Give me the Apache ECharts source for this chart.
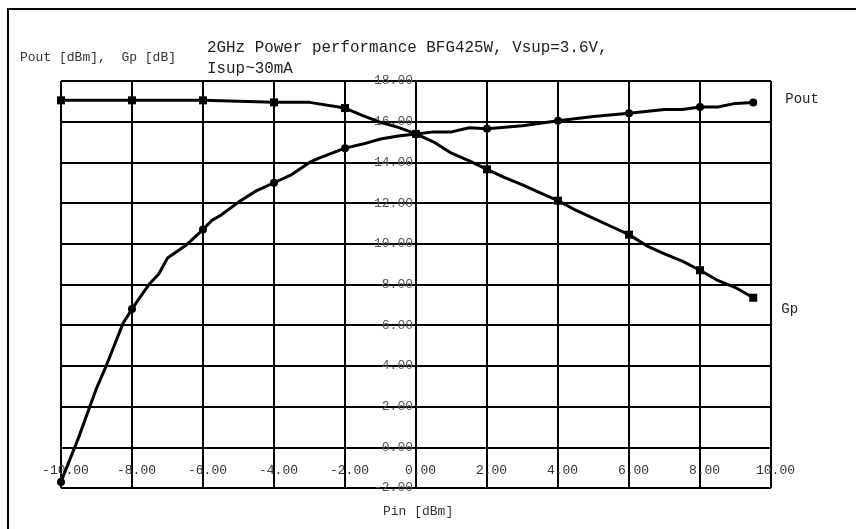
<!DOCTYPE html>
<html>
<head>
<meta charset="utf-8">
<script src="https://cdn.jsdelivr.net/npm/echarts@6/dist/echarts.min.js"></script>
<style>
  html, body { margin: 0; padding: 0; background: #fff; }
  #main { width: 856px; height: 529px; }
</style>
</head>
<body>
<div id="main"></div>
<script>
// Pin [dBm] values along each curve
var pinPout = [-10, -9.5, -9, -8.75, -8.5, -8.25, -8, -7.5, -7.25, -7, -6.5, -6, -5.75, -5.5, -5, -4.5, -4, -3.5, -3, -2.75, -2, -1.5, -1, -0.5, 0, 0.5, 1, 1.5, 2, 3, 4, 5, 6, 7, 7.5, 8, 8.5, 9, 9.5];
var pout = [-1.7, 0.5, 2.9, 3.9, 5.0, 6.1, 6.8, 8.05, 8.5, 9.3, 9.9, 10.7, 11.15, 11.4, 12.05, 12.6, 13.0, 13.4, 14.0, 14.2, 14.7, 14.9, 15.15, 15.3, 15.4, 15.5, 15.5, 15.7, 15.65, 15.8, 16.05, 16.25, 16.42, 16.6, 16.6, 16.72, 16.72, 16.9, 16.94];

var pinGp = [-10, -8, -6, -4, -3, -2, -1.5, -1, -0.5, 0, 0.5, 1, 1.5, 2, 2.5, 3, 3.5, 4, 4.5, 5, 5.5, 6, 6.5, 7, 7.5, 8, 8.5, 9, 9.5];
var gp = [17.05, 17.05, 17.05, 16.95, 16.95, 16.67, 16.3, 15.97, 15.72, 15.4, 15.0, 14.45, 14.07, 13.66, 13.25, 12.9, 12.5, 12.12, 11.65, 11.25, 10.85, 10.45, 9.9, 9.5, 9.15, 8.7, 8.2, 7.85, 7.35];

// points that carry a marker
var markPin = [-10, -8, -6, -4, -2, 0, 2, 4, 6, 8, 9.5];

var mono = 'Liberation Mono';

function pairs(xs, ys) {
  return xs.map(function (x, i) { return [x, ys[i]]; });
}

var chart = echarts.init(document.getElementById('main'));
chart.setOption({
  animation: false,
  backgroundColor: '#fff',
  title: {
    text: '2GHz Power performance BFG425W, Vsup=3.6V,\nIsup~30mA',
    left: 202,
    top: 32,
    textStyle: { fontFamily: mono, fontSize: 15.9, fontWeight: 'normal', color: '#222', lineHeight: 21 }
  },
  grid: { left: 61, right: 85, top: 81, bottom: 41 },
  xAxis: {
    type: 'value',
    min: -10, max: 10, interval: 2,
    offset: -38, // labels sit on y = 0
    axisLine: { show: false, onZero: false },
    axisTick: { show: false },
    splitLine: { lineStyle: { color: '#000', width: 2 } },
    axisLabel: {
      fontFamily: mono, fontSize: 13, color: '#333', margin: 14,
      padding: [0, 0, 0, 9],
      formatter: function (v) { return v.toFixed(2); }
    }
  },
  yAxis: {
    type: 'value',
    min: -2, max: 18, interval: 2,
    offset: -353, // labels sit on x = 0
    axisLine: { show: false, onZero: false },
    axisTick: { show: false },
    splitLine: { lineStyle: { color: '#000', width: 2 } },
    axisLabel: {
      fontFamily: mono, fontSize: 13, color: '#555', margin: 1,
      formatter: function (v) { return v.toFixed(2); }
    }
  },
  graphic: [
    { type: 'polyline', shape: { points: [[8, 529], [8, 9], [856, 9]] }, style: { stroke: '#000', lineWidth: 2, fill: null } },
    { type: 'text', left: 20, top: 51, style: { text: 'Pout [dBm],  Gp [dB]', font: '13px "Liberation Mono"', fill: '#333' } },
    { type: 'text', left: 383, top: 505, style: { text: 'Pin [dBm]', font: '13px "Liberation Mono"', fill: '#333' } }
  ],
  series: [
    {
      name: 'Pout',
      type: 'line',
      data: pairs(pinPout, pout),
      symbol: 'circle',
      symbolSize: function (v) { return markPin.indexOf(v[0]) >= 0 ? 8 : 0; },
      showAllSymbol: true,
      itemStyle: { color: '#000' },
      lineStyle: { color: '#000', width: 3 },
      endLabel: { show: true, formatter: 'Pout', offset: [24, -3], fontFamily: mono, fontSize: 14, color: '#222' }
    },
    {
      name: 'Gp',
      type: 'line',
      data: pairs(pinGp, gp),
      symbol: 'rect',
      symbolSize: function (v) { return markPin.indexOf(v[0]) >= 0 ? 8 : 0; },
      showAllSymbol: true,
      itemStyle: { color: '#000' },
      lineStyle: { color: '#000', width: 3 },
      endLabel: { show: true, formatter: 'Gp', offset: [20, 12], fontFamily: mono, fontSize: 14, color: '#222' }
    }
  ]
});
</script>
</body>
</html>
